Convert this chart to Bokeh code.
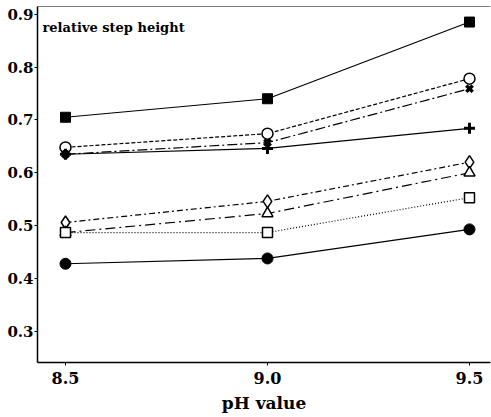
from bokeh.plotting import figure
from bokeh.models import FixedTicker, PrintfTickFormatter, Span, Label, Range1d
from bokeh.embed import file_html
from bokeh.resources import INLINE

# Data
ph = [8.5, 9.0, 9.5]
filled_square = [0.705, 0.740, 0.885]
open_circle = [0.648, 0.674, 0.778]
cross_x = [0.635, 0.657, 0.759]
plus = [0.635, 0.646, 0.684]
open_diamond = [0.506, 0.546, 0.620]
open_triangle = [0.487, 0.523, 0.600]
open_square = [0.487, 0.487, 0.553]
filled_circle = [0.428, 0.438, 0.493]

x_ticks = [8.5, 9.0, 9.5]
y_ticks = [0.3, 0.4, 0.5, 0.6, 0.7, 0.8, 0.9]
x_title = "pH value"
y_title = "relative step height"

FONT = "DejaVu Serif"

p = figure(width=491, height=417, output_backend="svg", toolbar_location=None,
           x_range=Range1d(8.4307, 9.552), y_range=Range1d(0.2413, 0.9144),
           min_border_left=37, min_border_right=1, min_border_top=6, min_border_bottom=55)

p.xgrid.visible = False
p.ygrid.visible = False
p.outline_line_color = None
p.background_fill_color = "white"
p.border_fill_color = "white"

for ax in (p.xaxis, p.yaxis):
    ax.axis_line_color = "black"
    ax.axis_line_width = 1.5
    ax.major_tick_line_color = "black"
    ax.major_tick_in = 0
    ax.major_tick_out = 3
    ax.minor_tick_line_color = None
    ax.major_label_text_font = FONT
    ax.major_label_text_font_style = "bold"
    ax.major_label_text_color = "black"

p.xaxis.ticker = FixedTicker(ticks=x_ticks)
p.xaxis.formatter = PrintfTickFormatter(format="%.1f")
p.xaxis.major_label_text_font_size = "16px"
p.xaxis.major_label_standoff = 6
p.xaxis.axis_label = x_title
p.xaxis.axis_label_text_font = FONT
p.xaxis.axis_label_text_font_style = "bold"
p.xaxis.axis_label_text_font_size = "17px"
p.xaxis.axis_label_standoff = 6
p.xaxis.axis_label_text_color = "black"

p.yaxis.ticker = FixedTicker(ticks=y_ticks)
p.yaxis.formatter = PrintfTickFormatter(format="%.1f")
p.yaxis.major_label_text_font_size = "15px"
p.yaxis.major_label_standoff = 1

p.add_layout(Span(location=0.9144, dimension="width", line_color="black", line_width=1.2))

# Series
p.line(ph, filled_square, line_color="black", line_width=1.2)
p.scatter(ph, filled_square, marker="square", size=10, fill_color="black", line_color="black")

p.line(ph, open_circle, line_color="black", line_width=1.2, line_dash="4 2")
p.scatter(ph, open_circle, marker="circle", size=11, fill_color="white", line_color="black", line_width=1.5)

p.line(ph, cross_x, line_color="black", line_width=1.2, line_dash="10 3 2 3")
p.line(ph, plus, line_color="black", line_width=1.2)
p.scatter(ph, cross_x, marker="x", size=9, line_color="black", line_width=3.5)
p.scatter(ph, plus, marker="cross", size=11, line_color="black", line_width=3)

p.line(ph, open_diamond, line_color="black", line_width=1.2, line_dash="6 3 2 3")
p.scatter(ph, open_diamond, marker="diamond", size=13, fill_color="white", line_color="black", line_width=1.5)

p.line(ph, open_triangle, line_color="black", line_width=1.2, line_dash="10 4 2 4")
p.scatter(ph, open_triangle, marker="triangle", size=11, fill_color="white", line_color="black", line_width=1.5)

p.line(ph, open_square, line_color="black", line_width=1.2, line_dash="1 2")
p.scatter(ph, open_square, marker="square", size=10, fill_color="white", line_color="black", line_width=1.5)

p.line(ph, filled_circle, line_color="black", line_width=1.2)
p.scatter(ph, filled_circle, marker="circle", size=11, fill_color="black", line_color="black")

p.add_layout(Label(x=8.443, y=0.8747, text=y_title, text_font=FONT, text_font_style="bold",
                   text_font_size="13px", text_baseline="alphabetic", text_color="black"))

open("out.html", "w").write(file_html(p, INLINE))
